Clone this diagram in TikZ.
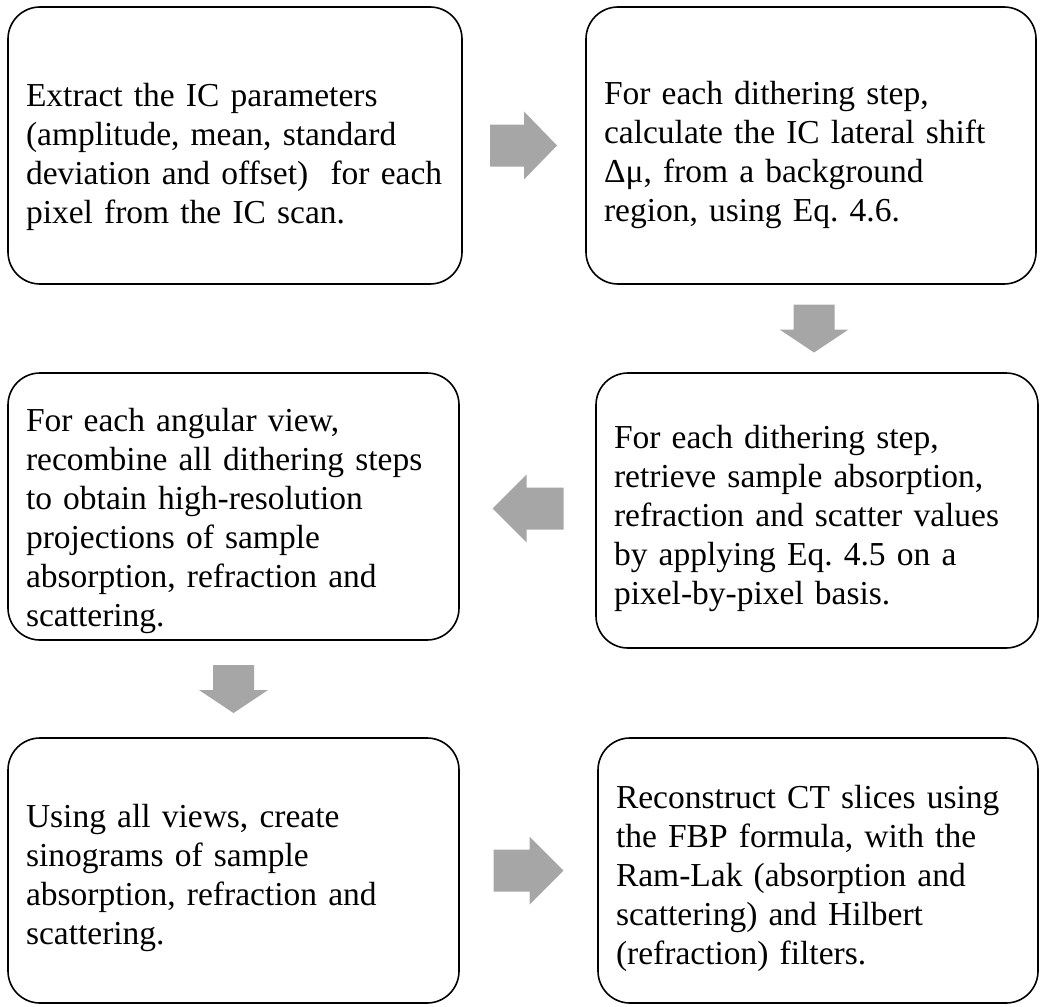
\documentclass[tikz,border=0pt]{standalone}
\usepackage{fontspec}
\setmainfont{Liberation Serif}
\usetikzlibrary{calc}
\frenchspacing

\definecolor{arrowgray}{RGB}{166,166,166}

\tikzset{
  stepbox/.style={draw=black, line width=1.6pt, rounded corners=32pt, fill=white,
    align=left, inner xsep=18pt, inner ysep=0pt, anchor=center,
    font=\fontsize{33.5}{39}\selectfont,
    execute at begin node={\rule{0pt}{#1}}},
  stepbox/.default=40pt,
  blockarrow/.style={fill=arrowgray},
}

\begin{document}
\begin{tikzpicture}[%
x=1pt, y=-1pt,
]
\useasboundingbox (0,0) rectangle (1040,1006);
%% box;
\node [stepbox=47pt, text width=418pt, minimum height=277pt] (ext) at (235,145.5)
  {Extract the IC parameters\\(amplitude, mean, standard\\deviation and offset)\ \ for each\\pixel from the IC scan.};
%% box;
\node [stepbox=43pt, text width=414pt, minimum height=277pt] (shift) at (811,145.5)
  {For each dithering step,\\calculate the IC lateral shift\\Δμ, from a background\\region, using Eq. 4.6.};
%% box;
\node [stepbox=53pt, text width=415pt, minimum height=267pt] (recomb) at (233.5,506.5)
  {For each angular view,\\recombine all dithering steps\\to obtain high-resolution\\projections of sample\\absorption, refraction and\\scattering.};
%% box;
\node [stepbox=39pt, text width=406pt, minimum height=275pt] (retr) at (817,510.5)
  {For each dithering step,\\retrieve sample absorption,\\refraction and scatter values\\by applying Eq. 4.5 on a\\pixel-by-pixel basis.};
%% box;
\node [stepbox=39pt, text width=415pt, minimum height=265pt] (sino) at (233.5,870.5)
  {Using all views, create\\sinograms of sample\\absorption, refraction and\\scattering.};
%% box;
\node [stepbox=39pt, text width=404pt, minimum height=265pt] (recon) at (818,870.5)
  {Reconstruct CT slices using\\the FBP formula, with the\\Ram-Lak (absorption and\\scattering) and Hilbert\\(refraction) filters.};
%% arrow;
\coordinate (a1) at ($(ext.east)!0.5!(shift.west)$);
\fill [blockarrow] (a1) ++(-34,-21) -- ++(34,0) -- ++(0,-13) -- ++(33,34) -- ++(-33,34) -- ++(0,-13) -- ++(-34,0) -- cycle;
%% arrow;
\coordinate (a2) at ($(shift.south)!0.5!(retr.north)$);
\fill [blockarrow] (a2) ++(-20.5,-24) -- ++(41,0) -- ++(0,25) -- ++(14,0) -- ++(-34.5,23) -- ++(-34.5,-23) -- ++(14,0) -- cycle;
%% arrow;
\coordinate (a3) at ($(retr.west)!0.5!(recomb.east)$);
\fill [blockarrow] (a3) ++(36,-21) -- ++(-37,0) -- ++(0,-13) -- ++(-34,34) -- ++(34,34) -- ++(0,-13) -- ++(37,0) -- cycle;
%% arrow;
\coordinate (a4) at ($(recomb.south)!0.5!(sino.north)$);
\fill [blockarrow] (a4) ++(-20.5,-24) -- ++(41,0) -- ++(0,25) -- ++(14,0) -- ++(-34.5,23) -- ++(-34.5,-23) -- ++(14,0) -- cycle;
%% arrow;
\coordinate (a5) at ($(sino.east)!0.5!(recon.west)$);
\fill [blockarrow] (a5) ++(-35,-21) -- ++(36,0) -- ++(0,-13) -- ++(34,34) -- ++(-34,34) -- ++(0,-13) -- ++(-36,0) -- cycle;
\end{tikzpicture}
\end{document}
